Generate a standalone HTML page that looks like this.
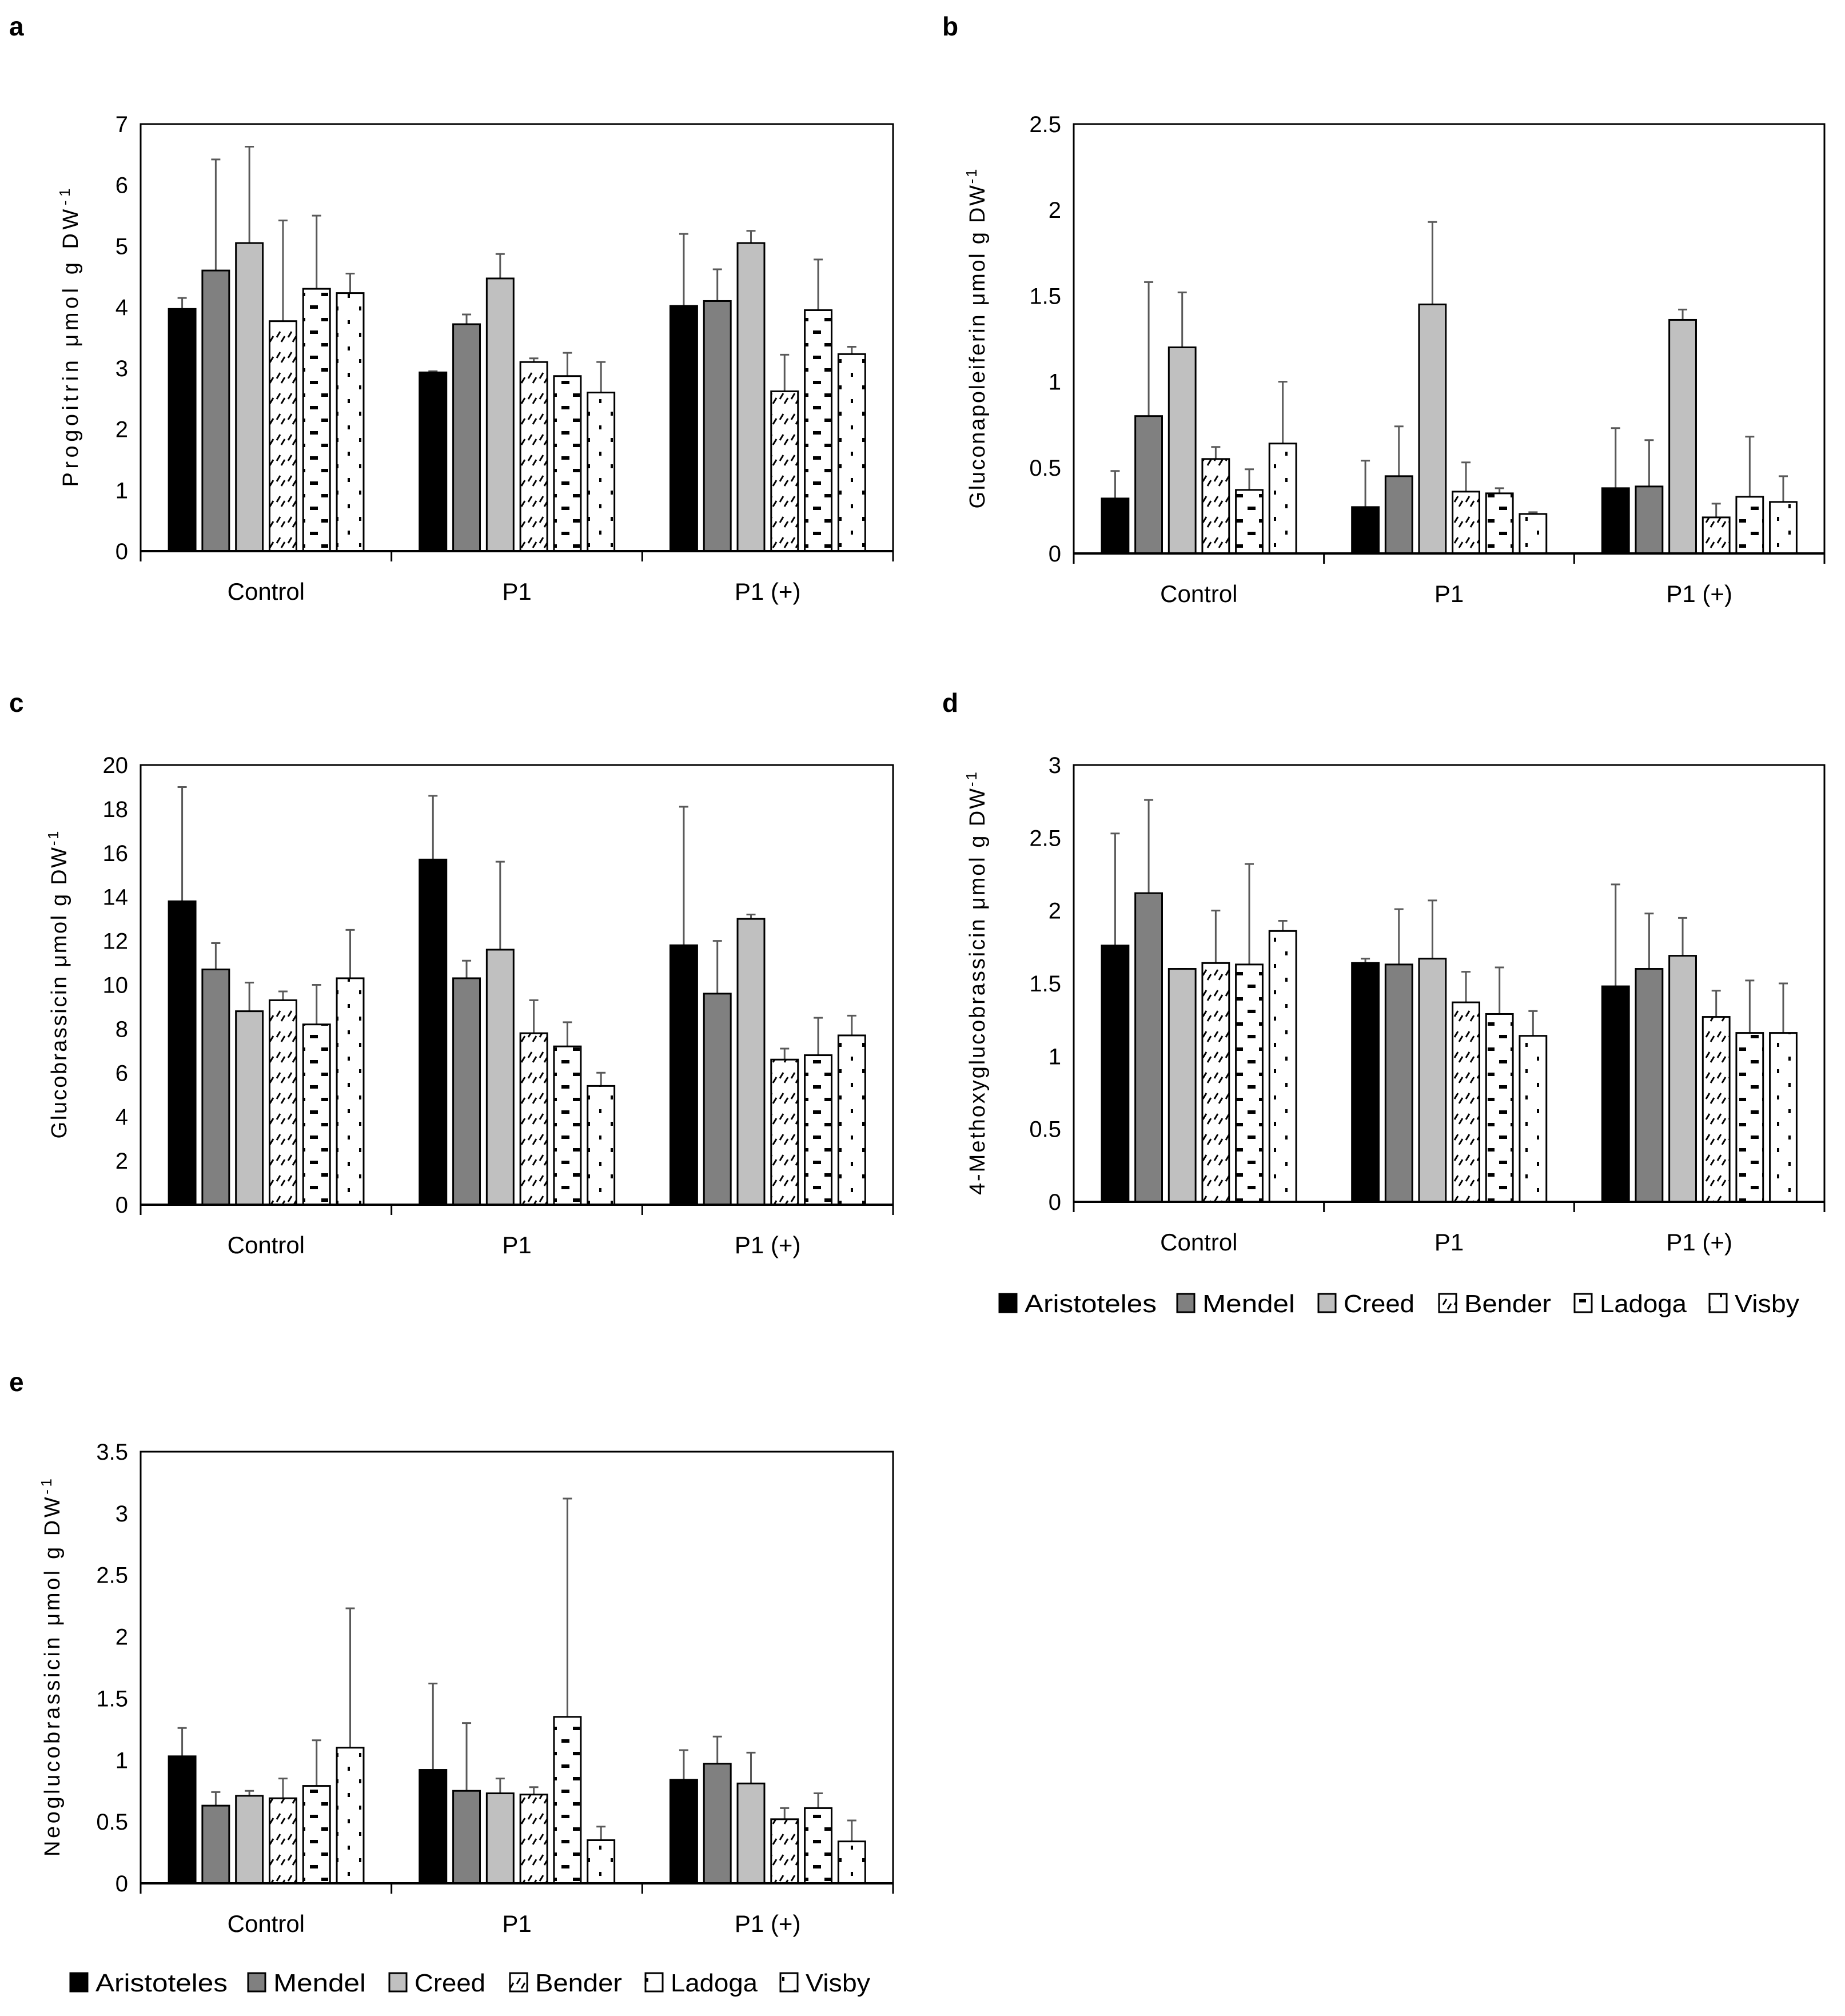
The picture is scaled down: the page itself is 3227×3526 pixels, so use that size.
<!DOCTYPE html>
<html><head><meta charset="utf-8"><style>
html,body{margin:0;padding:0;background:#fff}
svg{display:block;font-family:"Liberation Sans",sans-serif}
</style></head><body>
<svg id="fig" width="3227" height="3526" viewBox="0 0 3227 3526" xmlns="http://www.w3.org/2000/svg">
<defs>
<pattern id="pBender" patternUnits="userSpaceOnUse" width="20" height="36"><rect width="20" height="36" fill="#fff"/><line x1="4" y1="14" x2="10" y2="4" stroke="#000" stroke-width="3"/><line x1="12" y1="22" x2="18" y2="12" stroke="#000" stroke-width="3"/></pattern>
<pattern id="pLadoga" patternUnits="userSpaceOnUse" width="40" height="44"><rect width="40" height="44" fill="#fff"/><rect x="22" y="6" width="14" height="6" fill="#000"/><rect x="2" y="28" width="12" height="6" fill="#000"/></pattern>
<pattern id="pVisby" patternUnits="userSpaceOnUse" width="40" height="46"><rect width="40" height="46" fill="#fff"/><rect x="8" y="8" width="4" height="7" fill="#000"/><rect x="28" y="30" width="4" height="7" fill="#000"/></pattern>
</defs>
<g id="root"></g>
</svg>
<script>
const categories = ["Control","P1","P1 (+)"];
const seriesNames = ["Aristoteles","Mendel","Creed","Bender","Ladoga","Visby"];
const aVals = [[3.97,2.93,4.02],[4.6,3.72,4.1],[5.05,4.47,5.05],[3.77,3.1,2.62],[4.3,2.87,3.95],[4.23,2.6,3.23]];
const aTops = [[4.15,2.95,5.2],[6.42,3.88,4.62],[6.63,4.87,5.25],[5.42,3.16,3.22],[5.5,3.25,4.78],[4.55,3.1,3.35]];
const aTicks = ["0","1","2","3","4","5","6","7"];
const bVals = [[0.32,0.27,0.38],[0.8,0.45,0.39],[1.2,1.45,1.36],[0.55,0.36,0.21],[0.37,0.35,0.33],[0.64,0.23,0.3]];
const bTops = [[0.48,0.54,0.73],[1.58,0.74,0.66],[1.52,1.93,1.42],[0.62,0.53,0.29],[0.49,0.38,0.68],[1.0,0.24,0.45]];
const bTicks = ["0","0.5","1","1.5","2","2.5"];
const cVals = [[13.8,15.7,11.8],[10.7,10.3,9.6],[8.8,11.6,13],[9.3,7.8,6.6],[8.2,7.2,6.8],[10.3,5.4,7.7]];
const cTops = [[19,18.6,18.1],[11.9,11.1,12],[10.1,15.6,13.2],[9.7,9.3,7.1],[10,8.3,8.5],[12.5,6,8.6]];
const cTicks = ["0","2","4","6","8","10","12","14","16","18","20"];
const dVals = [[1.76,1.64,1.48],[2.12,1.63,1.6],[1.6,1.67,1.69],[1.64,1.37,1.27],[1.63,1.29,1.16],[1.86,1.14,1.16]];
const dTops = [[2.53,1.67,2.18],[2.76,2.01,1.98],[1.6,2.07,1.95],[2.0,1.58,1.45],[2.32,1.61,1.52],[1.93,1.31,1.5]];
const dTicks = ["0","0.5","1","1.5","2","2.5","3"];
const eVals = [[1.03,0.92,0.84],[0.63,0.75,0.97],[0.71,0.73,0.81],[0.69,0.72,0.52],[0.79,1.35,0.61],[1.1,0.35,0.34]];
const eTops = [[1.26,1.62,1.08],[0.74,1.3,1.19],[0.75,0.85,1.06],[0.85,0.78,0.61],[1.16,3.12,0.73],[2.23,0.46,0.51]];
const eTicks = ["0","0.5","1","1.5","2","2.5","3","3.5"];

const fills = ["#000","#808080","#c0c0c0","url(#pBender)","url(#pLadoga)","url(#pVisby)"];
const legendOffsets = [0,311,558,769,1006,1242];
const legendTextW = [231,162,124,152,152,113];
const NS = "http://www.w3.org/2000/svg";
const root = document.getElementById("root");
function mk(tag, attrs, parent){const e=document.createElementNS(NS,tag);for(const k in attrs)e.setAttribute(k,attrs[k]);(parent||root).appendChild(e);return e;}

function panel(id, letter, box, vals, tops, ticks, title, titleX, letterPos, titleLen){
  const g = mk("g",{});
  
  
  const [x0,y0,x1,y1] = box;
  const maxV = parseFloat(ticks[ticks.length-1]);
  const yS = v => y1 - (v/maxV)*(y1-y0);
  const catW = (x1-x0)/categories.length;
  const xS = (c,s) => x0 + c*catW + catW*(0.112 + s*0.134);
  const bw = catW*0.107;
  const lt = mk("text",{x:letterPos[0],y:letterPos[1],"font-size":46,"font-weight":"bold"},g);
  lt.textContent = letter;
  
  
  const frame = mk("rect",{x:x0,y:y0,width:x1-x0,height:y1-y0,fill:"none",stroke:"#000","stroke-width":3},g);
  
  
  ticks.forEach(t=>{
    const tt = mk("text",{x:x0-22,y:yS(parseFloat(t))+14,"font-size":40,"text-anchor":"end"},g);
    tt.textContent = t;
    
    
  });
  for(let c=0;c<=categories.length;c++){
    mk("line",{x1:x0+c*catW,x2:x0+c*catW,y1:y1,y2:y1+18,stroke:"#000","stroke-width":3},g);
  }
  categories.forEach((cat,c)=>{
    const ct = mk("text",{x:x0+(c+0.5)*catW,y:y1+85,"font-size":42,"text-anchor":"middle"},g);
    ct.textContent = cat;
    
    
  });
  vals.forEach((sv,s)=>{
    sv.forEach((v,c)=>{
      const x = xS(c,s);
      const top = tops[s][c];
      const el = mk("line",{x1:x+bw/2,x2:x+bw/2,y1:yS(v),y2:yS(top),stroke:"#595959","stroke-width":3},g);
      
      
      mk("line",{x1:x+bw/2-8,x2:x+bw/2+8,y1:yS(top),y2:yS(top),stroke:"#595959","stroke-width":3},g);
      const r = mk("rect",{x:x,y:yS(v),width:bw,height:y1-yS(v),fill:fills[s],stroke:"#000","stroke-width":3},g);
      
      
    });
  });
  mk("line",{x1:x0,x2:x1,y1:y1,y2:y1,stroke:"#000","stroke-width":4},g);
  const cy=(y0+y1)/2;
  const yt = mk("text",{x:titleX,y:cy,"font-size":38,"text-anchor":"middle",textLength:titleLen,lengthAdjust:"spacing",transform:`rotate(-90 ${titleX} ${cy})`},g);
  
  
  yt.appendChild(document.createTextNode(title+" μmol g DW"));
  const sup = mk("tspan",{"font-size":26,dy:-14},yt);
  sup.textContent = "-1";
}
function legend(x,y,id){
  const g = mk("g",{});
  
  
  seriesNames.forEach((n,s)=>{
    const cx = x + legendOffsets[s];
    const r = mk("rect",{x:cx,y:y-32,width:30,height:32,fill:fills[s],stroke:"#000","stroke-width":3},g);
    
    
    const t = mk("text",{x:cx+44,y:y,"font-size":44,textLength:legendTextW[s],lengthAdjust:"spacingAndGlyphs"},g);
    t.textContent = n;
    
    
  });
}
panel("a","a",[246,217,1562,964],aVals,aTops,aTicks,"Progoitrin",136,[16,62],522);
panel("b","b",[1878,217,3191,968],bVals,bTops,bTicks,"Gluconapoleiferin",1722,[1648,62],594);
panel("c","c",[246,1338,1562,2107],cVals,cTops,cTicks,"Glucobrassicin",116,[16,1245],538);
panel("d","d",[1878,1338,3191,2102],dVals,dTops,dTicks,"4-Methoxyglucobrassicin",1722,[1648,1245],740);
panel("e","e",[246,2539,1562,3294],eVals,eTops,eTicks,"Neoglucobrassicin",104,[16,2433],661);
legend(1748,2295,"d");
legend(123,3483,"e");
</script>
</body></html>
